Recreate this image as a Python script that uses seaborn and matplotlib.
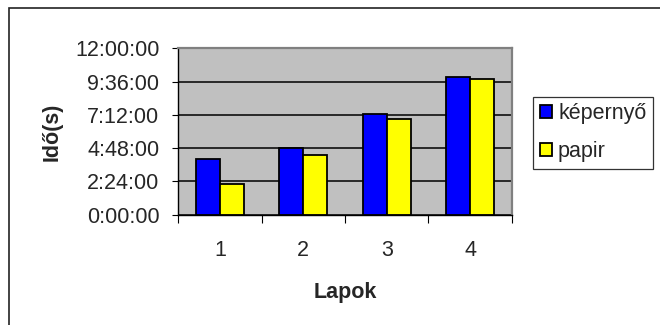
import matplotlib
matplotlib.use("Agg")
import matplotlib.pyplot as plt
import matplotlib.patches as mpatches
from matplotlib.ticker import FixedLocator, FuncFormatter
import seaborn as sns
import pandas as pd

# Measured times per page (hours)
lapok = ["1", "2", "3", "4"]
kepernyo = [4.01, 4.78, 7.26, 9.95]
papir = [2.24, 4.30, 6.88, 9.76]
series_names = ["képernyő", "papir"]
y_ticks = [0, 2.4, 4.8, 7.2, 9.6, 12.0]

df = pd.DataFrame({
    "Lapok": lapok * 2,
    "Idő": kepernyo + papir,
    "sorozat": [series_names[0]] * len(lapok) + [series_names[1]] * len(lapok),
})

sns.set_style("white")
plt.rcParams["font.family"] = ["Liberation Sans", "DejaVu Sans"]
FS = 15.5

W, H = 660, 325
fig = plt.figure(figsize=(W / 100, H / 100), dpi=100)
fig.patch.set_facecolor("white")

# outer chart frame (left and top edges visible)
fig.add_artist(mpatches.Rectangle((9 / W, -0.2), 1.2, 1.2 - 7.5 / H,
                                  transform=fig.transFigure, fill=False,
                                  edgecolor="#222222", linewidth=1.2))

x0, x1, y_top, y_bot = 178.3, 511.7, 48.3, 214.7
ax = fig.add_axes([x0 / W, 1 - y_bot / H, (x1 - x0) / W, (y_bot - y_top) / H])
ax.set_facecolor("#C0C0C0")

sns.barplot(data=df, x="Lapok", y="Idő", hue="sorozat",
            palette=["#0000FF", "#FFFF00"], width=0.576, gap=0,
            edgecolor="black", linewidth=1.3, saturation=1,
            errorbar=None, ax=ax)

ax.set_xlim(-0.5, 3.5)
ax.set_ylim(0, 12)
ax.set_axisbelow(True)
ax.yaxis.grid(True, color="#000000", linewidth=1.1)
ax.xaxis.grid(False)


def hms(v, pos=None):
    total = int(round(v * 3600))
    h, rem = divmod(total, 3600)
    m, s = divmod(rem, 60)
    return f"{h}:{m:02d}:{s:02d}"


ax.yaxis.set_major_locator(FixedLocator(y_ticks))
ax.yaxis.set_major_formatter(FuncFormatter(hms))
ax.tick_params(axis="y", which="major", left=True, length=6.5 * 0.72,
               width=0.8, color="black", pad=9, labelsize=FS)
ax.tick_params(axis="x", which="major", bottom=False, length=0, pad=18,
               labelsize=FS)
ax.set_xticks([-0.5, 0.5, 1.5, 2.5, 3.5], minor=True)
ax.tick_params(axis="x", which="minor", bottom=True, length=5.5,
               width=0.8, color="black")

for side in ("left", "bottom"):
    ax.spines[side].set_color("black")
    ax.spines[side].set_linewidth(1.0)
for side in ("top", "right"):
    ax.spines[side].set_visible(True)
    ax.spines[side].set_color("#808080")
    ax.spines[side].set_linewidth(1.6)

ax.set_ylabel("Idő(s)", fontsize=FS, fontweight="bold", labelpad=9)
ax.set_xlabel("Lapok", fontsize=FS, fontweight="bold", labelpad=15)

handles, labels = ax.get_legend_handles_labels()
ax.get_legend().remove()
leg = fig.legend(handles, labels, loc="upper left",
                 bbox_to_anchor=(533.3 / W, 1 - 96.7 / H),
                 frameon=True, fancybox=False, shadow=False,
                 fontsize=FS, handlelength=0.55, handleheight=0.55,
                 handletextpad=0.3, labelspacing=0.79, borderpad=0.3,
                 borderaxespad=0)
leg.get_frame().set_edgecolor("black")
leg.get_frame().set_linewidth(0.9)
for p in leg.get_patches():
    p.set_edgecolor("black")
    p.set_linewidth(1.3)

fig.savefig("out.png", dpi=100)
